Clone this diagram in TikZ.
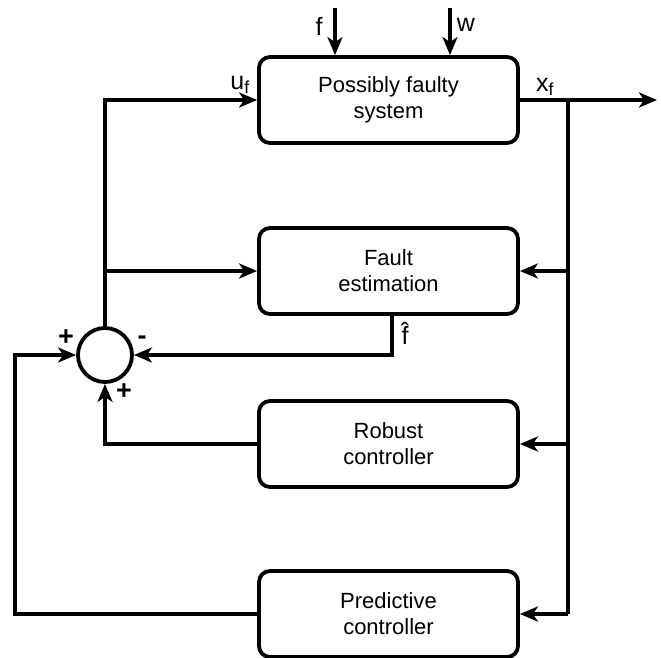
\documentclass[tikz,border=0pt]{standalone}
\usepackage{fontspec}
\setmainfont{Liberation Sans}
\usetikzlibrary{arrows.meta}
\tikzset{
  block/.style={draw, rounded corners=11pt, minimum width=259pt, minimum height=86pt,
    align=center, inner sep=0pt, font=\fontsize{22}{26}\selectfont},
  arr/.style={-{Stealth[length=18pt,width=15pt,inset=5pt]}},
  lbl/.style={inner sep=0pt, font=\fontsize{25}{25}\selectfont},
  sgn/.style={inner sep=0pt, font=\fontsize{27}{27}\selectfont\bfseries}
}
\begin{document}
\begin{tikzpicture}[x=1pt,y=-1pt,line width=3.8pt]
    \useasboundingbox (0,0) rectangle (661,657);
    \node[block] (sys) at (388.5,100) {Possibly faulty\\system};
    \node[block] (fe) at (388.5,271) {Fault\\estimation};
    \node[block] (rc) at (388.5,444) {Robust\\controller};
    \node[block] (pc) at (388.5,614) {Predictive\\controller};
    \node[draw, circle, minimum size=54pt, inner sep=0pt] (sum) at (105,355) {};
    \coordinate (fin) at (335,8);
    \coordinate (win) at (450,8);
    \coordinate (out) at (657,100);
    \coordinate (xb) at (568,100);
    \coordinate (ub) at (105,271);
    \draw[arr] (fin) -- (fin |- sys.north);
    \draw[arr] (win) -- (win |- sys.north);
    \draw[arr] (sum.north) |- (sys.west);
    \draw[arr] (ub) -- (fe.west);
    \draw[arr] (sys.east) -- (out);
    \draw (xb) -- (xb |- pc.east);
    \draw[arr] (xb |- fe.east) -- (fe.east);
    \draw[arr] (xb |- rc.east) -- (rc.east);
    \draw[arr] (xb |- pc.east) -- (pc.east);
    \draw[arr] (fe.south -| 392,0) |- (sum.east);
    \draw[arr] (rc.west) -| (sum.south);
    \draw[arr] (pc.west) -- (15,614) |- (sum.west);
    \node[lbl] (lf) at (319,26) {f};
    \node[lbl] (lw) at (466,25) {w};
    \node[lbl] (luf) at (240,85) {u\textsubscript{f}};
    \node[lbl] (lxf) at (545,87) {x\textsubscript{f}};
    \node[lbl] (lfh) at (405,333) {\^{f}};
    \node[sgn] (pl) at (66,338) {+};
    \node[sgn] (mi) at (142,340) {-};
    \node[sgn] (pb) at (124,392) {+};
\end{tikzpicture}
\end{document}
